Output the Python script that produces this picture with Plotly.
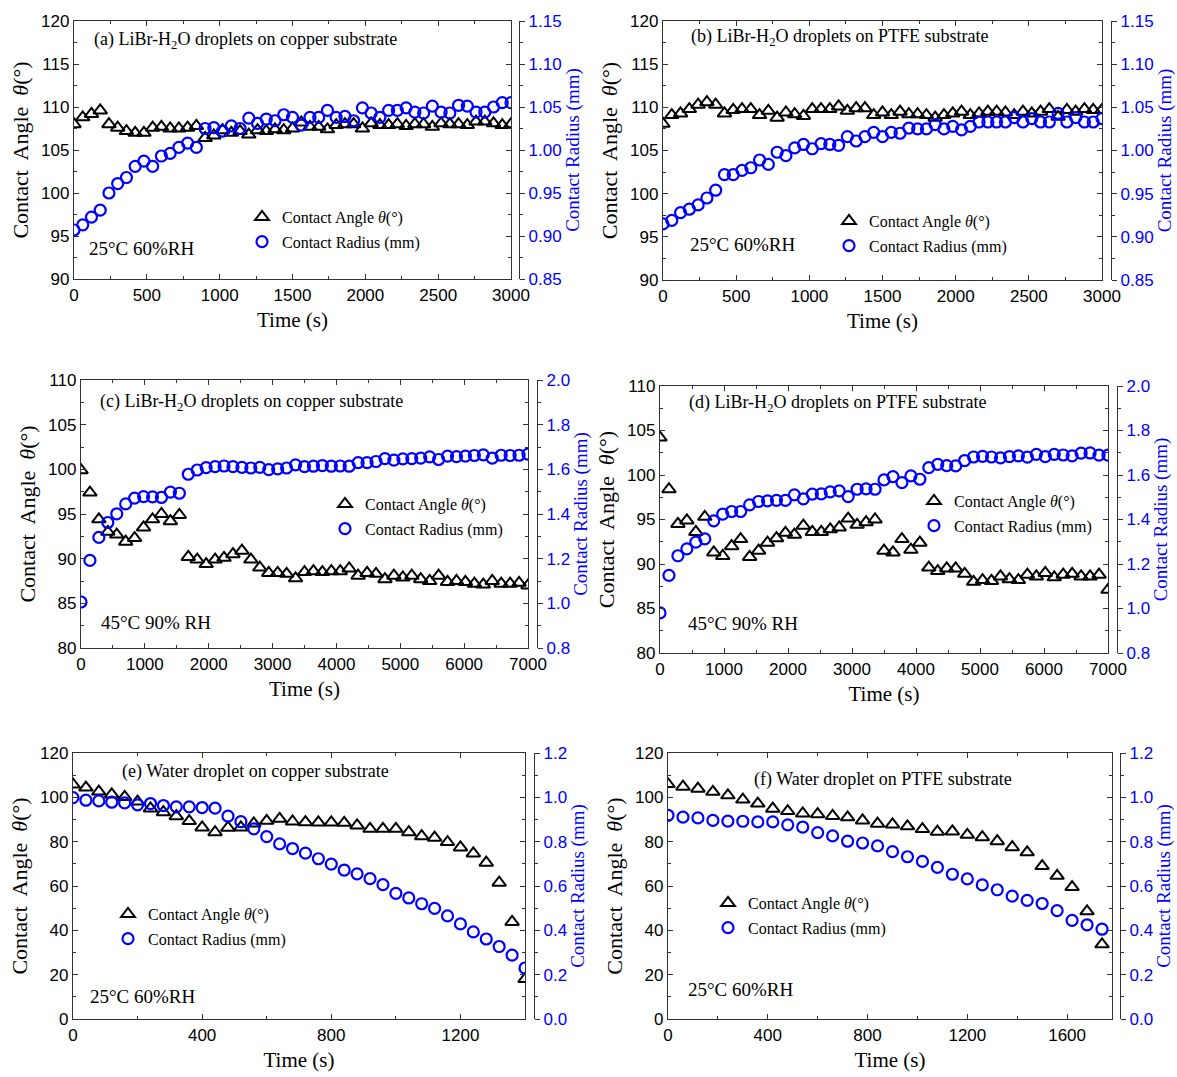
import plotly.graph_objects as go

# ---------------- data ----------------
t_ab = [0, 60, 120, 180, 240, 300, 360, 420, 480, 540, 600, 660, 720, 780, 840, 900, 960, 1020,
        1080, 1140, 1200, 1260, 1320, 1380, 1440, 1500, 1560, 1620, 1680, 1740, 1800, 1860, 1920,
        1980, 2040, 2100, 2160, 2220, 2280, 2340, 2400, 2460, 2520, 2580, 2640, 2700, 2760, 2820,
        2880, 2940, 3000]
angle_a = [108, 108.8, 109.2, 109.6, 108, 107.6, 107.2, 107, 107, 107.6, 107.7, 107.5, 107.5, 107.6,
           107.8, 106.4, 106.7, 107.3, 107, 107.2, 106.8, 107.3, 107.2, 107.4, 107.3, 107.5, 108.2,
           107.7, 107.7, 107.4, 107.9, 108, 108, 107.5, 108.1, 107.9, 107.9, 108, 107.8, 108, 108,
           107.7, 108.1, 108, 108, 107.9, 108.3, 108.3, 108.1, 107.9, 108]
radius_a = [0.907, 0.913, 0.922, 0.930, 0.950, 0.961, 0.968, 0.981, 0.987, 0.981, 0.993, 0.996, 1.003,
            1.008, 1.003, 1.025, 1.026, 1.022, 1.028, 1.025, 1.037, 1.031, 1.036, 1.034, 1.041, 1.038,
            1.029, 1.038, 1.038, 1.046, 1.038, 1.039, 1.034, 1.049, 1.043, 1.038, 1.046, 1.046, 1.049,
            1.044, 1.043, 1.051, 1.044, 1.043, 1.052, 1.051, 1.044, 1.044, 1.050, 1.055, 1.055]
angle_b = [108.1, 109.1, 109.3, 109.8, 110.3, 110.6, 110.3, 109.3, 109.7, 109.8, 109.8, 109.1, 109.6,
           108.8, 109.4, 109.2, 109, 109.8, 109.8, 109.8, 110.1, 109.6, 109.9, 109.9, 109.1, 109.4,
           109.1, 109.5, 109.2, 109.2, 109.1, 108.8, 109.1, 109.3, 109.5, 109.1, 109.3, 109.5, 109.5,
           109.4, 109.1, 109.5, 109.3, 109.5, 109.8, 108.9, 109.7, 109.5, 109.8, 109.7, 109.7]
radius_b = [0.915, 0.919, 0.928, 0.932, 0.937, 0.945, 0.954, 0.972, 0.972, 0.977, 0.980, 0.989, 0.984,
            0.998, 0.994, 1.003, 1.007, 1.002, 1.008, 1.007, 1.006, 1.016, 1.011, 1.016, 1.021, 1.016,
            1.021, 1.020, 1.026, 1.025, 1.025, 1.030, 1.025, 1.028, 1.024, 1.028, 1.033, 1.033, 1.033,
            1.033, 1.038, 1.033, 1.037, 1.033, 1.033, 1.043, 1.033, 1.038, 1.033, 1.033, 1.037]

t_cd = [0, 140, 280, 420, 560, 700, 840, 980, 1120, 1260, 1400, 1540, 1680, 1820, 1960, 2100, 2240,
        2380, 2520, 2660, 2800, 2940, 3080, 3220, 3360, 3500, 3640, 3780, 3920, 4060, 4200, 4340,
        4480, 4620, 4760, 4900, 5040, 5180, 5320, 5460, 5600, 5740, 5880, 6020, 6160, 6300, 6440,
        6580, 6720, 6860, 7000]
angle_c = [99.9, 97.4, 94.4, 93, 92.7, 91.9, 92.3, 93.5, 94.4, 95, 94.2, 94.9, 90.2, 89.9, 89.4, 89.9,
           90.1, 90.5, 90.9, 89.9, 89, 88.4, 88.4, 88.3, 87.8, 88.5, 88.6, 88.5, 88.6, 88.6, 88.9,
           88.1, 88.4, 88.3, 87.7, 88.1, 87.9, 88.1, 87.7, 87.5, 88.1, 87.4, 87.5, 87.4, 87.2, 87.1,
           87.5, 87.2, 87.2, 87.3, 87]
radius_c = [1.006, 1.192, 1.295, 1.362, 1.401, 1.445, 1.471, 1.478, 1.477, 1.474, 1.498, 1.493, 1.578,
            1.597, 1.608, 1.612, 1.615, 1.612, 1.609, 1.606, 1.609, 1.599, 1.602, 1.606, 1.620, 1.612,
            1.614, 1.617, 1.614, 1.615, 1.614, 1.630, 1.630, 1.635, 1.648, 1.641, 1.647, 1.648, 1.650,
            1.656, 1.644, 1.659, 1.657, 1.659, 1.662, 1.665, 1.650, 1.663, 1.662, 1.663, 1.668]
angle_d = [104.2, 98.4, 94.5, 94.9, 93.6, 95.3, 91.3, 90.9, 92, 92.8, 90.8, 91.5, 92.4, 92.9, 93.5,
           93.3, 94.3, 93.6, 93.6, 93.9, 94.1, 95.1, 94.4, 94.7, 95, 91.5, 91.3, 92.8, 91.6, 92.4,
           89.6, 89.2, 89.5, 89.5, 88.9, 88, 88.2, 88.1, 88.6, 88.3, 88.2, 88.8, 88.6, 89, 88.5, 88.8,
           88.9, 88.6, 88.6, 88.8, 87.1]
radius_d = [0.980, 1.149, 1.237, 1.268, 1.298, 1.313, 1.394, 1.424, 1.436, 1.436, 1.466, 1.481, 1.484,
            1.486, 1.486, 1.511, 1.493, 1.514, 1.515, 1.524, 1.529, 1.503, 1.536, 1.538, 1.536, 1.578,
            1.593, 1.566, 1.596, 1.581, 1.633, 1.648, 1.642, 1.641, 1.665, 1.681, 1.684, 1.681, 1.677,
            1.683, 1.686, 1.680, 1.693, 1.683, 1.693, 1.690, 1.686, 1.698, 1.699, 1.689, 1.689]

t_e = [0, 40, 80, 120, 160, 200, 240, 280, 320, 360, 400, 440, 480, 520, 560, 600, 640, 680, 720,
       760, 800, 840, 880, 920, 960, 1000, 1040, 1080, 1120, 1160, 1200, 1240, 1280, 1320, 1360, 1400]
angle_e = [105.8, 104.4, 102.6, 101.3, 100.2, 98.1, 95, 93.3, 91.5, 89.3, 86.4, 84.3, 86.3, 86.4,
           88.2, 89.4, 90.3, 89.1, 88.8, 88.7, 88.7, 88.5, 87.3, 85.8, 85.8, 85.8, 84.3, 82.5, 81.8,
           79.8, 77.4, 74.7, 70.5, 61.5, 43.8, 18]
radius_e = [0.999, 0.987, 0.984, 0.978, 0.975, 0.966, 0.972, 0.963, 0.957, 0.957, 0.954, 0.951, 0.915,
            0.890, 0.858, 0.823, 0.790, 0.769, 0.748, 0.723, 0.699, 0.672, 0.655, 0.633, 0.606, 0.567,
            0.546, 0.520, 0.499, 0.465, 0.429, 0.393, 0.361, 0.327, 0.288, 0.230]

t_f = [0, 60, 120, 180, 240, 300, 360, 420, 480, 540, 600, 660, 720, 780, 840, 900, 960, 1020, 1080,
       1140, 1200, 1260, 1320, 1380, 1440, 1500, 1560, 1620, 1680, 1740]
angle_f = [106, 104.8, 103.9, 102.5, 100.9, 99, 97.2, 94.9, 93.8, 92.7, 92.4, 91.6, 91, 89.6, 88.1,
           87.8, 86.9, 85.7, 84.5, 84.6, 83.1, 82, 80.2, 77.5, 75.2, 69, 64.6, 59.5, 48.6, 33.7]
radius_f = [0.919, 0.911, 0.907, 0.896, 0.893, 0.892, 0.889, 0.889, 0.876, 0.866, 0.841, 0.826, 0.802,
            0.794, 0.781, 0.755, 0.732, 0.711, 0.684, 0.653, 0.632, 0.605, 0.583, 0.554, 0.535, 0.521,
            0.489, 0.445, 0.425, 0.405]

titles = ["(a) LiBr-H<sub>2</sub>O droplets on copper substrate",
          "(b) LiBr-H<sub>2</sub>O droplets on PTFE substrate",
          "(c) LiBr-H<sub>2</sub>O droplets on copper substrate",
          "(d) LiBr-H<sub>2</sub>O droplets on PTFE substrate",
          "(e) Water droplet on copper substrate",
          "(f) Water droplet on PTFE substrate"]
conditions = ["25°C 60%RH", "25°C 60%RH", "45°C 90% RH", "45°C 90% RH", "25°C 60%RH", "25°C 60%RH"]
angle_name = "Contact Angle <i>θ</i>(°)"
radius_name = "Contact Radius (mm)"

# ---------------- layout geometry (pixels) ----------------
W, H = 1177, 1077
TIMES = "Liberation Serif, Times New Roman, serif"
ARIAL = "Liberation Sans, Arial, sans-serif"
BLUE = "#0000FF"
AX = "#333333"

panels = [
    dict(t=t_ab, a=angle_a, r=radius_a, box=(74, 511, 21, 279), sec=519,
         xr=[0, 3000], xd=500, yr=[90, 120], yd=5, y2r=[0.85, 1.15], y2d=0.05, fmt=".2f",
         title=(92, 41), cond=(87, 248), leg=(264, 217)),
    dict(t=t_ab, a=angle_b, r=radius_b, box=(663, 1102, 21, 280), sec=1111,
         xr=[0, 3000], xd=500, yr=[90, 120], yd=5, y2r=[0.85, 1.15], y2d=0.05, fmt=".2f",
         title=(689, 38), cond=(688, 244), leg=(851, 221)),
    dict(t=t_cd, a=angle_c, r=radius_c, box=(81, 528, 380, 648), sec=537,
         xr=[0, 7000], xd=1000, yr=[80, 110], yd=5, y2r=[0.8, 2.0], y2d=0.2, fmt=".1f",
         title=(98, 402), cond=(99, 622), leg=(347, 504)),
    dict(t=t_cd, a=angle_d, r=radius_d, box=(660, 1108, 386, 653), sec=1117,
         xr=[0, 7000], xd=1000, yr=[80, 110], yd=5, y2r=[0.8, 2.0], y2d=0.2, fmt=".1f",
         title=(687, 404), cond=(686, 623), leg=(936, 501)),
    dict(t=t_e, a=angle_e, r=radius_e, box=(73, 525, 753, 1019), sec=534,
         xr=[0, 1400], xd=400, yr=[0, 120], yd=20, y2r=[0, 1.2], y2d=0.2, fmt=".1f",
         title=(120, 771), cond=(88, 996), leg=(130, 914)),
    dict(t=t_f, a=angle_f, r=radius_f, box=(668, 1112, 753, 1019), sec=1120,
         xr=[0, 1780], xd=400, yr=[0, 120], yd=20, y2r=[0, 1.2], y2d=0.2, fmt=".1f",
         title=(752, 779), cond=(686, 989), leg=(730, 903)),
]

fig = go.Figure()
layout = dict(width=W, height=H, margin=dict(l=0, r=0, t=0, b=0, autoexpand=False),
              paper_bgcolor="white", plot_bgcolor="white", showlegend=True, annotations=[])

for i, p in enumerate(panels, start=1):
    xl, xr_, yt, yb = p["box"]
    xs = "" if i == 1 else str(i)
    sec = str(i + 6)
    legname = "legend" if i == 1 else f"legend{i}"
    fig.add_trace(go.Scatter(
        x=p["t"], y=p["a"], mode="markers", name=angle_name,
        xaxis="x" + xs, yaxis="y" + xs, legend=legname, legendgroup=f"a{i}",
        marker=dict(symbol="triangle-up-open", size=12, color="black", line=dict(width=2, color="black"))))
    fig.add_trace(go.Scatter(
        x=p["t"], y=p["r"], mode="markers", name=radius_name,
        xaxis="x" + xs, yaxis="y" + sec, legend=legname, legendgroup=f"r{i}",
        marker=dict(symbol="circle-open", size=11, color=BLUE, line=dict(width=2.2, color=BLUE))))

    common = dict(showline=True, linecolor=AX, linewidth=1.3, ticks="inside", ticklen=5,
                  tickwidth=1, tickcolor=AX, showgrid=False, zeroline=False, automargin=False,
                  tickfont=dict(family=ARIAL, size=17, color="black"))
    layout["xaxis" + xs] = dict(
        domain=[xl / W, xr_ / W], anchor="y" + xs, range=p["xr"], dtick=p["xd"], tick0=0,
        mirror="ticks", minor=dict(ticks="inside", ticklen=3, dtick=p["xd"] / 2, tickcolor=AX),
        title=dict(text="Time (s)", font=dict(family=TIMES, size=21, color="black"), standoff=8),
        **common)
    layout["yaxis" + xs] = dict(
        domain=[1 - yb / H, 1 - yt / H], anchor="x" + xs, range=p["yr"], dtick=p["yd"], tick0=0,
        mirror="ticks", minor=dict(ticks="inside", ticklen=3, dtick=p["yd"] / 2, tickcolor=AX),
        title=dict(text="Contact  Angle  <i>θ</i>(°)", font=dict(family=TIMES, size=22, color="black"),
                   standoff=6),
        **common)
    sec_common = dict(common)
    sec_common["ticks"] = "outside"
    sec_common["tickfont"] = dict(family=ARIAL, size=17, color=BLUE)
    layout["yaxis" + sec] = dict(
        overlaying="y" + xs, anchor="free", position=p["sec"] / W, side="right",
        range=p["y2r"], dtick=p["y2d"], tick0=0, tickformat=p["fmt"],
        minor=dict(ticks="outside", ticklen=3, dtick=p["y2d"] / 2, tickcolor=AX),
        title=dict(text=radius_name, font=dict(family=TIMES, size=19, color=BLUE), standoff=4),
        **sec_common)

    tx, ty = p["title"]
    layout["annotations"].append(dict(
        text=titles[i - 1], xref="paper", yref="paper", x=tx / W, y=1 - ty / H,
        xanchor="left", yanchor="middle", showarrow=False,
        font=dict(family=TIMES, size=18, color="black")))
    cx, cy = p["cond"]
    layout["annotations"].append(dict(
        text=conditions[i - 1], xref="paper", yref="paper", x=cx / W, y=1 - cy / H,
        xanchor="left", yanchor="middle", showarrow=False,
        font=dict(family=TIMES, size=19, color="black")))
    lx, ly = p["leg"]
    layout[legname] = dict(
        x=(lx - 22) / W, y=1 - (ly - 17) / H, xanchor="left", yanchor="top",
        bgcolor="rgba(0,0,0,0)", borderwidth=0, tracegroupgap=1,
        font=dict(family=TIMES, size=16, color="black"), traceorder="grouped")

fig.update_layout(**layout)
fig.write_html("out.html", config={"displayModeBar": False},
               post_script="document.body.style.margin='0px';")
